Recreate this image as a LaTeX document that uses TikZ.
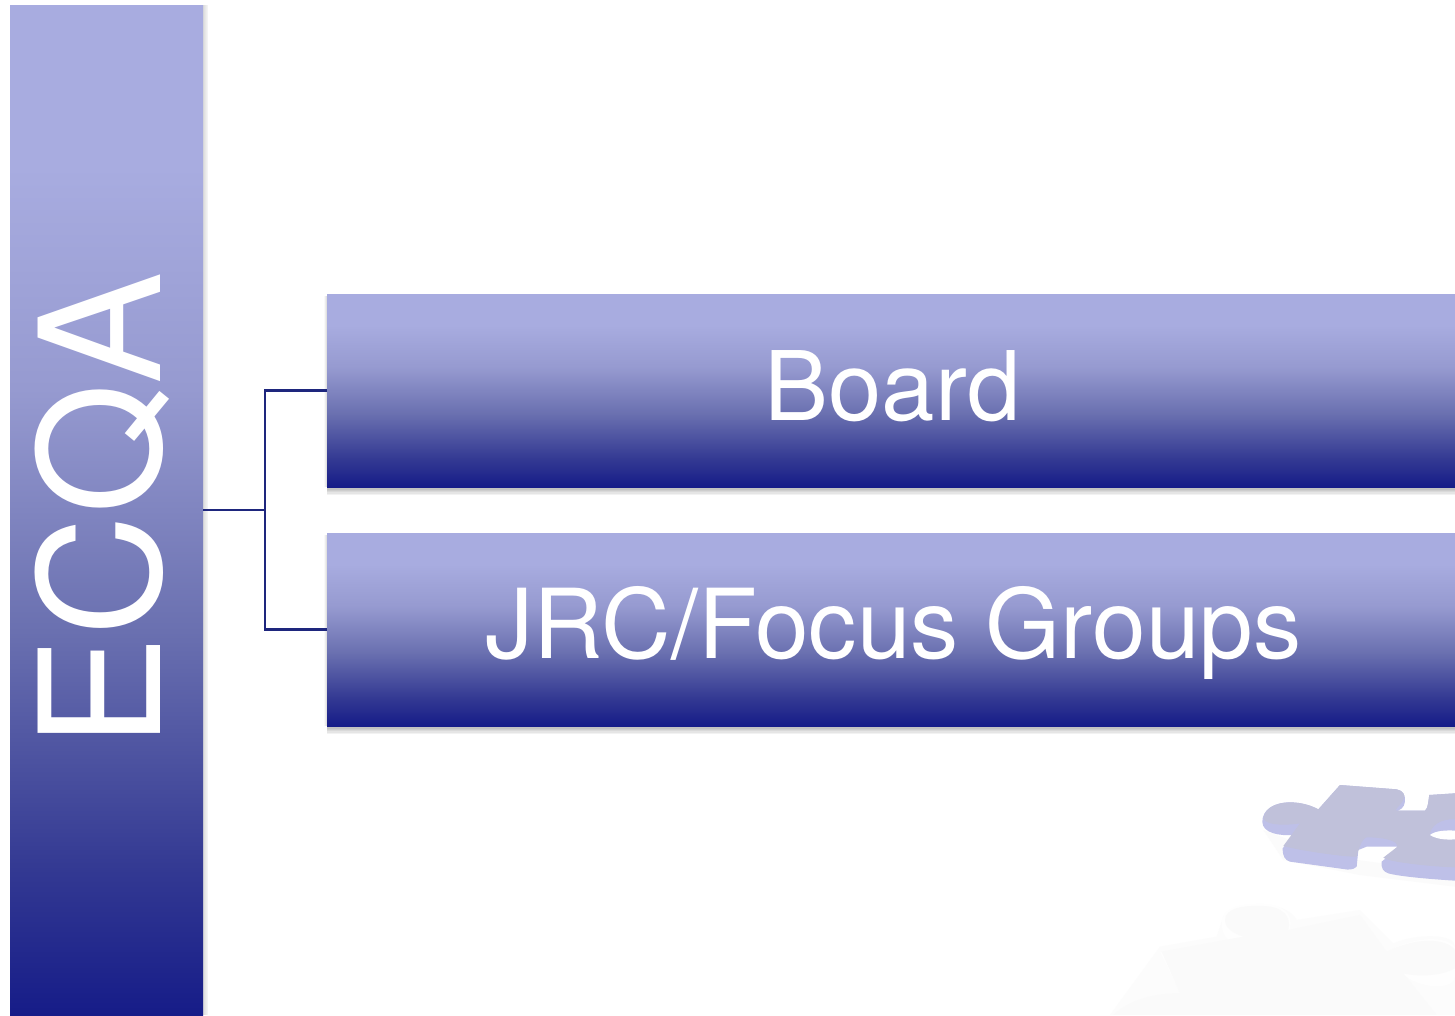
\documentclass[tikz,border=0pt]{standalone}
\usepackage{fontspec}
\usepackage{graphicx}
\setmainfont{TeX Gyre Heros}
\definecolor{linecol}{RGB}{30,38,125}
\definecolor{pieceTop}{RGB}{192,193,218}
\definecolor{pieceSide}{RGB}{190,192,232}
\definecolor{whiteTop}{RGB}{250,250,250}
\definecolor{whiteSide}{RGB}{254,254,254}
\definecolor{gradA}{RGB}{22,28,136}
\definecolor{gradB}{RGB}{50,56,146}
\definecolor{gradC}{RGB}{106,112,176}
\definecolor{gradD}{RGB}{150,154,208}
\definecolor{gradE}{RGB}{168,172,224}
\pgfdeclareverticalshading{barshade}{100bp}{
  color(0bp)=(gradA);
  color(25bp)=(gradA);
  color(32bp)=(gradB);
  color(44bp)=(gradC);
  color(56bp)=(gradD);
  color(67bp)=(gradE);
  color(100bp)=(gradE)}
\tikzset{
  box/.style={rectangle,inner sep=0pt,outer sep=0pt,shading=barshade,text=white},
  conn/.style={draw=linecol,line width=2.1pt},
  softshadow/.style={fill=black,fill opacity=0.05,draw=none},
  sideshadow/.style={fill=black,fill opacity=0.025,draw=none}
}
\begin{document}
\begin{tikzpicture}[x=1pt,y=-1pt]
\useasboundingbox (0,0) rectangle (1455,1015);
\fill[white] (0,0) rectangle (1455,1015);
% white puzzle piece
\begin{scope}[shift={(1100,760)},x=0.3333pt,y=-0.3333pt]
\fill[black!6,opacity=0.2] (370,470) .. controls (420,420) and (560,420) .. (590,480) -- (780,450) -- (880,550) .. controls (950,520) and (1065,520) .. (1065,560) -- (1065,765) -- (30,765) -- (180,560) -- (350,530) -- cycle;
\fill[whiteSide] (365,490) .. controls (365,445) and (420,430) .. (490,432) .. controls (550,435) and (580,460) .. (570,505) -- (560,530) -- (400,550) .. controls (380,540) and (365,520) .. (365,490) -- cycle;
\fill[whiteSide] (180,575) -- (240,700) -- (40,765) -- (1000,765) -- (905,640) .. controls (960,690) and (1065,690) .. (1065,650) -- (1065,560) .. controls (1040,530) and (950,525) .. (860,575) -- cycle;
\fill[whiteTop] (375,480) .. controls (375,445) and (430,435) .. (490,438) .. controls (550,440) and (575,470) .. (565,510) -- (780,465) -- (860,575) .. controls (950,530) and (1040,535) .. (1065,570) -- (1065,625) .. controls (1020,650) and (950,650) .. (910,640) -- (1010,765) -- (40,765) .. controls (100,710) and (180,700) .. (240,700) -- (185,575) -- (430,530) .. controls (400,520) and (375,505) .. (375,480) -- cycle;
\end{scope}
% blue puzzle piece
\begin{scope}[shift={(1100,760)},x=0.3333pt,y=-0.3333pt]
\fill[black!8,opacity=0.2] (490,210) -- (550,300) -- (780,345) -- (860,355) -- (1065,380) -- (1065,340) -- (700,290) -- cycle;
\fill[pieceSide] (487,185) .. controls (487,150) and (520,127) .. (570,127) .. controls (610,127) and (640,140) .. (655,148) -- (720,75) -- (890,88) .. controls (910,92) and (916,105) .. (915,125) .. controls (912,145) and (900,150) .. (890,152) -- (975,152) .. controls (985,145) and (985,120) .. (988,105) -- (1065,100) -- (1065,362) .. controls (1000,358) and (900,350) .. (865,340) .. controls (850,335) and (843,325) .. (845,305) -- (885,272) -- (910,260) -- (800,260) -- (775,270) -- (770,320) .. controls (760,330) and (745,330) .. (730,327) -- (570,305) .. controls (555,300) and (548,290) .. (548,265) -- (580,225) .. controls (540,228) and (487,220) .. (487,185) -- cycle;
\fill[pieceTop] (490,175) .. controls (495,145) and (525,128) .. (570,127) .. controls (610,127) and (640,140) .. (655,148) -- (720,75) -- (890,88) .. controls (910,92) and (916,105) .. (912,115) .. controls (900,140) and (880,150) .. (890,152) -- (975,152) .. controls (985,145) and (985,120) .. (988,105) -- (1065,100) -- (1065,178) .. controls (1020,175) and (990,200) .. (990,225) -- (1065,238) -- (1065,322) .. controls (1000,320) and (900,310) .. (860,298) -- (850,293) -- (890,262) .. controls (900,245) and (860,232) .. (800,232) .. controls (790,235) and (780,250) .. (770,290) .. controls (740,292) and (600,272) .. (550,258) -- (600,190) .. controls (570,195) and (500,200) .. (490,175) -- cycle;
\fill[white] (990,225) .. controls (1005,212) and (1040,210) .. (1065,212) -- (1065,238) .. controls (1040,240) and (1010,238) .. (990,225) -- cycle;
\end{scope}
% soft shadows
\foreach \i in {1,2,3,4,5,6} {
  \fill[sideshadow] (10,5) rectangle (203+\i*0.9,1015);
  \fill[sideshadow] (327-\i*0.5,296) rectangle (1455,487);
  \fill[sideshadow] (327-\i*0.5,535) rectangle (1455,726);
  \fill[softshadow] (327,480) rectangle (1455,487+\i*1.3);
  \fill[softshadow] (327,720) rectangle (1455,726+\i*1.3);
}
% boxes
\node[box,minimum width=193pt,minimum height=1010pt,anchor=north west] (ecqa) at (10,5)
  {\rotatebox{90}{\raisebox{0pt}[107pt][0pt]{\fontsize{168}{168}\selectfont ECQA}}};
\node[box,minimum width=1128pt,minimum height=193pt,anchor=north west] (board) at (327,294)
  {\raisebox{0pt}[59pt][0pt]{\fontsize{96}{96}\selectfont\hspace*{3pt}Board}};
\node[box,minimum width=1128pt,minimum height=193pt,anchor=north west] (jrc) at (327,533)
  {\raisebox{0pt}[57pt][0pt]{\fontsize{96.5}{96.5}\selectfont\hspace*{5pt}JRC/Focus Groups}};
% connectors
\coordinate (hub) at (265,510);
\draw[conn] (ecqa.east) -- (hub);
\draw[conn] (board.west) -- (hub |- board.west) -- (hub |- jrc.west) -- (jrc.west);
\end{tikzpicture}
\end{document}
